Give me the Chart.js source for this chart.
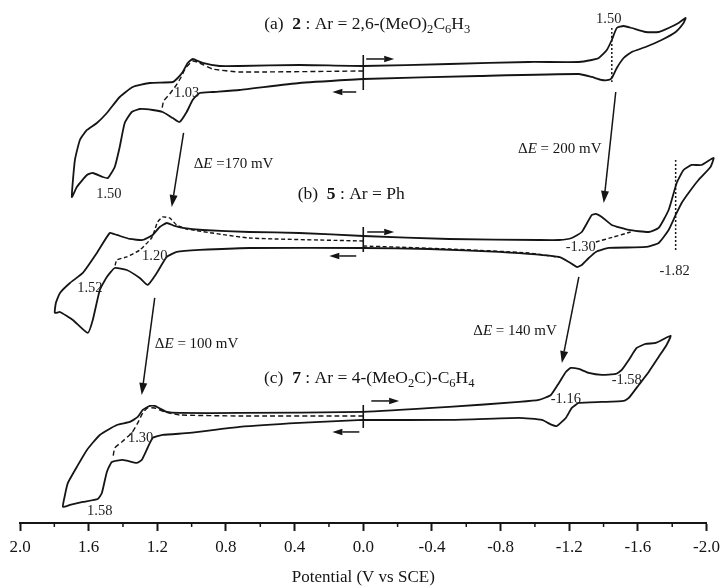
<!DOCTYPE html>
<html>
<head>
<meta charset="utf-8">
<script src="https://cdn.jsdelivr.net/npm/chart.js@4.4.1/dist/chart.umd.min.js"></script>
<style>
  html, body { margin: 0; padding: 0; background: #fff; }
  #wrap { width: 723px; height: 586px; }
</style>
</head>
<body>
<div id="wrap"><canvas id="cv" width="723" height="586"></canvas></div>
<script>
//x axis: potential in V vs SCE (axis runs from +2.0 on the left to -2.0 on the right)
const xTicks = [2.0, 1.6, 1.2, 0.8, 0.4, 0.0, -0.4, -0.8, -1.2, -1.6, -2.0];
const xMinor = [1.8, 1.4, 1.0, 0.6, 0.2, -0.2, -0.6, -1.0, -1.4, -1.8];

//y: current in arbitrary units, the three voltammograms are stacked (a on top, c at the bottom)
//each loop is listed in scan order, starting and ending at 0.0 V

//(a) compound 2
const aLoopE = [0.000, 0.372, 0.721, 0.878, 0.953, 0.994, 1.029, 1.070, 1.110, 1.169, 1.227, 1.302, 1.349, 1.390, 1.419, 1.448, 1.488, 1.517, 1.576, 1.610, 1.669, 1.698,
  1.680, 1.651, 1.610, 1.552, 1.494, 1.419, 1.343, 1.244, 1.110, 1.081, 1.052, 1.023, 0.994, 0.936, 0.837, 0.721, 0.372, 0.000,
  -0.500, -0.965, -1.256, -1.331, -1.372, -1.419, -1.448, -1.477, -1.517, -1.564, -1.645, -1.721, -1.779, -1.837, -1.878,
  -1.866, -1.820, -1.738, -1.645, -1.564, -1.517, -1.477, -1.448, -1.430, -1.390, -1.331, -1.256, -0.674, 0.000];
const aLoopI = [444, 440, 433, 431, 430, 423, 411, 401, 405, 411, 413, 414, 411, 400, 376, 356, 345, 346, 350, 348, 336, 326,
  363, 383, 393, 400, 410, 426, 436, 440, 441, 445, 451, 460, 464, 460, 457, 457, 458, 457,
  459, 461, 461, 463, 465, 473, 483, 495, 497, 495, 491, 491, 495, 500, 505,
  500, 491, 483, 476, 471, 465, 455, 445, 443, 443, 446, 449, 447, 444];
const aDashE = [0.000, 0.721, 0.878, 0.953, 0.994, 1.035, 1.064, 1.093, 1.128, 1.163, 1.174];
const aDashI = [452, 451, 454, 460, 462, 455, 445, 437, 429, 422, 413];
const aPeakE = [-1.448, -1.448];
const aPeakI = [495, 441];

//(b) compound 5
const bLoopE = [0.000, 0.663, 0.953, 1.087, 1.145, 1.203, 1.256, 1.302, 1.378, 1.448, 1.494, 1.535, 1.576, 1.605, 1.692, 1.767, 1.797,
  1.791, 1.767, 1.709, 1.634, 1.552, 1.477, 1.436, 1.360, 1.285, 1.227, 1.186, 1.145, 1.099, 1.052, 0.936, 0.663, 0.372, 0.000,
  -0.500, -1.023, -1.140, -1.215, -1.273, -1.331, -1.355, -1.390, -1.448, -1.547, -1.663, -1.721, -1.779, -1.826, -1.866, -1.913, -1.971, -2.041,
  -2.023, -1.953, -1.895, -1.855, -1.820, -1.779, -1.721, -1.645, -1.430, -1.355, -1.314, -1.273, -1.244, -1.198, -1.140, -0.791, -0.384, 0.000];
const bLoopI = [275, 275, 273, 271, 266, 250, 238, 245, 253, 255, 246, 233, 203, 190, 203, 211, 210,
  220, 230, 240, 250, 270, 290, 288, 284, 283, 288, 296, 300, 297, 295, 293, 291, 290, 287,
  284, 283, 283, 285, 291, 308, 309, 306, 298, 293, 291, 295, 313, 340, 353, 358, 358, 365,
  356, 343, 330, 320, 308, 293, 280, 276, 275, 271, 265, 258, 256, 261, 266, 271, 274, 275];
const bDashLeftE = [0.000, 0.663, 1.029, 1.087, 1.128, 1.169, 1.198, 1.215, 1.233, 1.302, 1.378, 1.436, 1.448];
const bDashLeftI = [282, 285, 294, 298, 305, 306, 301, 293, 285, 273, 266, 263, 256];
const bDashRightE = [0.000, -0.500, -0.965, -1.169];
const bDashRightI = [277, 274, 270, 265];
const bDashLinkE = [-1.355, -1.459, -1.558];
const bDashLinkI = [281, 286, 291];
const bPeakE = [-1.820, -1.820];
const bPeakI = [363, 273];

//(c) compound 7
const cLoopE = [0.000, 0.372, 0.721, 1.012, 1.169, 1.227, 1.262, 1.291, 1.320, 1.401, 1.465, 1.494, 1.523, 1.547, 1.634, 1.709, 1.750,
  1.738, 1.721, 1.669, 1.610, 1.535, 1.436, 1.360, 1.314, 1.285, 1.244, 1.215, 1.145, 1.070, 0.721, 0.000,
  -0.500, -0.907, -1.023, -1.093, -1.140, -1.180, -1.209, -1.256, -1.314, -1.390, -1.471, -1.506, -1.547, -1.593, -1.645, -1.703, -1.762, -1.791,
  -1.767, -1.721, -1.663, -1.605, -1.547, -1.517, -1.390, -1.256, -1.215, -1.180, -1.128, -1.099, -1.041, -0.907, -0.500, 0.000];
const cLoopI = [103, 100, 96, 90, 88, 85, 73, 63, 60, 63, 61, 51, 30, 24, 21, 18, 16,
  28, 40, 56, 73, 88, 98, 101, 106, 113, 117, 117, 111, 110, 110, 111,
  116, 121, 123, 128, 140, 151, 155, 154, 150, 148, 149, 153, 163, 175, 179, 180, 185, 187,
  178, 166, 151, 138, 125, 122, 121, 120, 115, 105, 97, 98, 103, 105, 103, 103];
const cDashE = [0.000, 0.721, 1.070, 1.157, 1.215, 1.256, 1.285, 1.314, 1.349, 1.407, 1.448, 1.459];
const cDashI = [107, 107, 108, 111, 115, 115, 110, 100, 90, 81, 75, 65];

//peak potential labels
const peakText = ['1.03', '1.50', '1.50', '1.20', '1.52', '-1.30', '-1.82', '1.30', '1.58', '-1.16', '-1.58'];
const peakE = [1.029, 1.482, -1.430, 1.215, 1.593, -1.267, -1.814, 1.297, 1.535, -1.180, -1.535];
const peakI = [431, 330, 505, 268, 236, 277, 253, 86, 13, 125, 144];

//shift arrows between the panels: [start E, start I, end E, end I]
const shiftText = [' =170 mV', ' = 200 mV', ' = 100 mV', ' = 140 mV'];
const shiftLabelE = [0.756, -1.145, 0.971, -0.884];
const shiftLabelI = [360, 375, 180, 193];
const shiftFromE = [1.047, -1.471, 1.215, -1.256];
const shiftFromI = [390, 431, 225, 246];
const shiftToE = [1.116, -1.401, 1.291, -1.157];
const shiftToI = [316, 320, 128, 160];

//scan start markers at 0.0 V and scan direction arrows for each panel
const startTopI = [468, 296, 118];
const startBottomI = [433, 271, 95];
const fwdI = [464, 291, 122];
const fwdFromE = [-0.017, -0.023, -0.047];
const fwdToE = [-0.180, -0.180, -0.209];
const backI = [431, 267, 91];
const backFromE = [0.041, 0.041, 0.023];
const backToE = [0.180, 0.198, 0.180];

//panel titles
const titleE = [-0.023, 0.070, -0.035];
const titleI = [500, 330, 146];
const titleParts = [
  [['(a)  ', ''], ['2', 'b'], [' : Ar = 2,6-(MeO)', ''], ['2', 's'], ['C', ''], ['6', 's'], ['H', ''], ['3', 's']],
  [['(b)  ', ''], ['5', 'b'], [' : Ar = Ph', '']],
  [['(c)  ', ''], ['7', 'b'], [' : Ar = 4-(MeO', ''], ['2', 's'], ['C)-C', ''], ['6', 's'], ['H', ''], ['4', 's']],
];

const INK = '#151515';
const FONT = '"Liberation Serif", "Times New Roman", serif';

const toPoints = (es, is) => es.map((e, k) => ({ x: e, y: is[k] }));

const trace = (label, es, is, dash, width) => ({
  label: label,
  data: toPoints(es, is),
  borderColor: INK,
  borderWidth: width || 1.8,
  borderDash: dash || [],
  pointRadius: 0,
  fill: false,
  tension: 0.15,
  clip: false,
});

const datasets = [
  trace('a', aLoopE, aLoopI),
  trace('a dashed', aDashE, aDashI, [5, 3], 1.4),
  trace('a peak', aPeakE, aPeakI, [2, 2], 1.5),
  trace('b', bLoopE, bLoopI),
  trace('b dashed left', bDashLeftE, bDashLeftI, [4, 2.5], 1.4),
  trace('b dashed right', bDashRightE, bDashRightI, [4, 2.5], 1.4),
  trace('b dashed link', bDashLinkE, bDashLinkI, [4, 2.5], 1.4),
  trace('b peak', bPeakE, bPeakI, [2, 2], 1.5),
  trace('c', cLoopE, cLoopI),
  trace('c dashed', cDashE, cDashI, [5, 3], 1.4),
];

const drawArrow = (ctx, x1, y1, x2, y2, head, half) => {
  const ang = Math.atan2(y2 - y1, x2 - x1);
  const bx = x2 - head * Math.cos(ang);
  const by = y2 - head * Math.sin(ang);
  ctx.beginPath();
  ctx.moveTo(x1, y1);
  ctx.lineTo(bx, by);
  ctx.stroke();
  ctx.beginPath();
  ctx.moveTo(x2, y2);
  ctx.lineTo(bx + half * Math.sin(ang), by - half * Math.cos(ang));
  ctx.lineTo(bx - half * Math.sin(ang), by + half * Math.cos(ang));
  ctx.closePath();
  ctx.fill();
};

//text with bold / italic / subscript runs, centred on (cx, cy)
const drawRich = (ctx, parts, cx, cy, size) => {
  const fontFor = (st) => (st.includes('b') ? 'bold ' : '') + (st.includes('i') ? 'italic ' : '') +
    (st.includes('s') ? size * 0.72 : size) + 'px ' + FONT;
  let total = 0;
  parts.forEach(([t, st]) => { ctx.font = fontFor(st); total += ctx.measureText(t).width; });
  let x = cx - total / 2;
  ctx.textAlign = 'left';
  ctx.textBaseline = 'alphabetic';
  parts.forEach(([t, st]) => {
    ctx.font = fontFor(st);
    ctx.fillText(t, x, cy + size * 0.34 + (st.includes('s') ? size * 0.24 : 0));
    x += ctx.measureText(t).width;
  });
};

const annotations = {
  id: 'annotations',
  afterDatasetsDraw(chart) {
    const ctx = chart.ctx;
    const xs = chart.scales.x;
    const ys = chart.scales.y;
    const px = (e) => xs.getPixelForValue(e);
    const py = (i) => ys.getPixelForValue(i);
    ctx.save();
    ctx.strokeStyle = INK;
    ctx.fillStyle = INK;

    //minor ticks on the potential axis
    ctx.lineWidth = 1.5;
    xMinor.forEach((e) => {
      ctx.beginPath();
      ctx.moveTo(px(e), chart.chartArea.bottom);
      ctx.lineTo(px(e), chart.chartArea.bottom + 4);
      ctx.stroke();
    });

    //start markers and scan direction arrows
    for (let k = 0; k < 3; k++) {
      ctx.lineWidth = 1.6;
      ctx.beginPath();
      ctx.moveTo(px(0), py(startTopI[k]));
      ctx.lineTo(px(0), py(startBottomI[k]));
      ctx.stroke();
      ctx.lineWidth = 1.5;
      drawArrow(ctx, px(fwdFromE[k]), py(fwdI[k]), px(fwdToE[k]), py(fwdI[k]), 10, 3.2);
      drawArrow(ctx, px(backFromE[k]), py(backI[k]), px(backToE[k]), py(backI[k]), 10, 3.2);
    }

    //shift arrows
    ctx.lineWidth = 1.5;
    for (let k = 0; k < shiftText.length; k++) {
      drawArrow(ctx, px(shiftFromE[k]), py(shiftFromI[k]), px(shiftToE[k]), py(shiftToI[k]), 12, 4);
      drawRich(ctx, [['\u0394', ''], ['E', 'i'], [shiftText[k], '']], px(shiftLabelE[k]), py(shiftLabelI[k]), 15);
    }

    //peak labels
    ctx.fillStyle = '#222';
    peakText.forEach((t, k) => {
      drawRich(ctx, [[t, '']], px(peakE[k]), py(peakI[k]), 14.5);
    });

    //panel titles
    ctx.fillStyle = INK;
    titleParts.forEach((parts, k) => {
      drawRich(ctx, parts, px(titleE[k]), py(titleI[k]), 17.5);
    });
    ctx.restore();
  },
};

new Chart(document.getElementById('cv'), {
  type: 'line',
  data: { datasets: datasets },
  options: {
    responsive: false,
    animation: false,
    devicePixelRatio: 1,
    layout: { padding: { left: 20, right: 15, top: 0, bottom: 0 } },
    plugins: {
      legend: { display: false },
      tooltip: { enabled: false },
    },
    scales: {
      x: {
        type: 'linear',
        min: -2,
        max: 2,
        reverse: true,
        afterBuildTicks: (scale) => { scale.ticks = xTicks.map((v) => ({ value: v })); },
        ticks: {
          color: INK,
          padding: 3,
          maxRotation: 0,
          autoSkip: false,
          font: { family: FONT, size: 17, lineHeight: 1.65 },
          callback: (v) => Number(v).toFixed(1),
        },
        grid: { drawOnChartArea: false, drawTicks: true, tickLength: 8, tickWidth: 2, tickColor: INK },
        border: { display: true, color: INK, width: 2 },
        title: {
          display: true,
          text: 'Potential (V vs SCE)',
          color: INK,
          font: { family: FONT, size: 17, lineHeight: 1.0 },
          padding: { top: 4, bottom: 0 },
        },
      },
      y: { type: 'linear', display: false, min: 0, max: 523 },
    },
  },
  plugins: [annotations],
});
</script>
</body>
</html>
